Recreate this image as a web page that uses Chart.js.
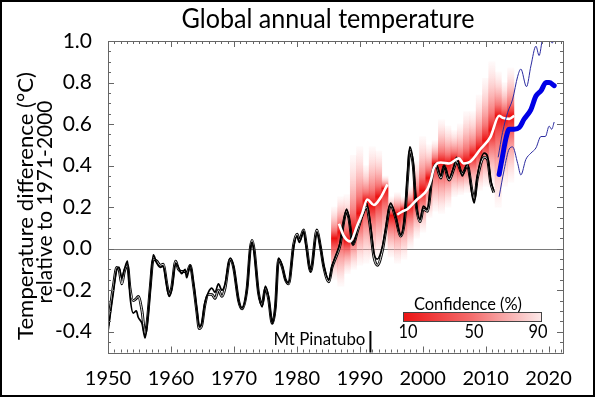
<!DOCTYPE html>
<html><head><meta charset="utf-8">
<script src="https://cdn.jsdelivr.net/npm/chart.js@4.4.0/dist/chart.umd.min.js"></script>
<style>html,body{margin:0;padding:0;background:#fff;}canvas{display:block;}</style>
</head><body>
<canvas id="c" width="595" height="397"></canvas>
<script>
// ---------- data ----------
const xTickValues = [1950, 1960, 1970, 1980, 1990, 2000, 2010, 2020];
const xTickLabels = ['1950', '1960', '1970', '1980', '1990', '2000', '2010', '2020'];
const yTickValues = [-0.4, -0.2, 0.0, 0.2, 0.4, 0.6, 0.8, 1.0];
const yTickLabels = ['-0.4', '-0.2', '0.0', '0.2', '0.4', '0.6', '0.8', '1.0'];

const obsYears = [1950.0,1950.3,1950.85,1951.4,1951.75,1952.2,1952.6,1953.1,1953.5,1954.0,1954.5,1954.8,1955.4,1955.9,1956.3,1956.7,1957.2,1957.75,1958.3,1958.8,1959.3,1959.7,1960.1,1960.75,1961.2,1961.7,1962.25,1962.5,1963.05,1963.6,1964.1,1964.5,1964.9,1965.4,1965.95,1966.5,1967.0,1967.55,1968.1,1968.6,1969.4,1969.95,1970.75,1971.3,1972.1,1972.6,1972.9,1973.25,1973.9,1974.5,1975.0,1975.5,1976.1,1976.6,1977.1,1977.7,1978.2,1978.7,1979.5,1980.05,1980.4,1981.1,1981.5,1982.2,1983.2,1983.75,1984.3,1985.1,1985.6,1986.1,1986.9,1987.4,1987.9,1988.25,1988.95,1989.6,1990.4,1991.1,1991.6,1992.25,1992.8,1993.6,1994.1,1994.9,1995.7,1996.5,1997.1,1997.65,1997.95,1998.5,1998.9,1999.6,2000.1,2000.75,2001.55,2002.1,2002.9,2003.4,2004.2,2005.0,2005.4,2006.3,2007.1,2007.9,2008.2,2008.7,2009.8,2010.3,2010.8,2011.3];
const obsA = [-0.40,-0.33,-0.21,-0.10,-0.09,-0.14,-0.10,-0.06,-0.23,-0.31,-0.30,-0.33,-0.36,-0.43,-0.34,-0.20,-0.03,-0.07,-0.09,-0.085,-0.17,-0.23,-0.20,-0.07,-0.09,-0.12,-0.10,-0.14,-0.08,-0.17,-0.29,-0.375,-0.36,-0.26,-0.21,-0.19,-0.21,-0.17,-0.20,-0.17,-0.045,-0.085,-0.25,-0.285,-0.19,-0.005,0.03,-0.02,-0.21,-0.28,-0.18,-0.23,-0.36,-0.28,-0.045,-0.085,-0.15,-0.165,0.01,0.06,0.03,0.085,0.01,-0.11,0.08,0.01,-0.085,-0.15,-0.085,-0.04,0.03,0.12,0.19,0.155,0.02,0.09,0.17,0.22,0.14,-0.02,-0.05,0.01,0.09,0.22,0.155,0.065,0.14,0.38,0.49,0.41,0.235,0.14,0.205,0.19,0.37,0.41,0.35,0.40,0.34,0.40,0.44,0.35,0.41,0.25,0.22,0.35,0.46,0.445,0.33,0.28];
const obsB = [-0.37,-0.30,-0.18,-0.09,-0.10,-0.17,-0.11,-0.08,-0.19,-0.25,-0.24,-0.23,-0.30,-0.41,-0.33,-0.19,-0.05,-0.06,-0.08,-0.075,-0.16,-0.22,-0.19,-0.06,-0.10,-0.11,-0.11,-0.12,-0.08,-0.18,-0.30,-0.385,-0.37,-0.27,-0.22,-0.22,-0.24,-0.20,-0.23,-0.19,-0.05,-0.09,-0.25,-0.29,-0.19,0.00,0.04,-0.01,-0.21,-0.27,-0.19,-0.24,-0.36,-0.28,-0.05,-0.09,-0.15,-0.17,0.02,0.07,0.04,0.09,0.02,-0.11,0.09,0.01,-0.09,-0.16,-0.09,-0.05,0.02,0.12,0.18,0.15,0.02,0.08,0.16,0.20,0.12,-0.04,-0.08,-0.01,0.08,0.21,0.15,0.06,0.13,0.36,0.47,0.40,0.23,0.13,0.19,0.18,0.36,0.40,0.34,0.40,0.33,0.39,0.42,0.36,0.40,0.27,0.24,0.34,0.44,0.43,0.32,0.27];

const hindYears = [1986.7,1987.5,1988.5,1989.6,1990.4,1991.2,1992.25,1993.3,1994.4,1995.2,1995.95,1996.8,1997.55,1999.1,2000.75,2001.3,2001.8,2002.9,2004.2,2005.75,2006.5,2007.6,2009.2,2010.8,2012.15,2012.7,2013.75,2014.55];
const hindMid = [0.12,0.06,0.035,0.11,0.17,0.237,0.21,0.245,0.31,null,0.164,0.18,0.19,0.237,0.285,0.33,0.39,0.415,0.41,0.435,0.41,0.42,0.48,0.54,0.64,0.63,0.625,0.64];

const confYears = [1986,1987,1988,1989,1990,1991,1992,1993,1994,1995,1996,1997,1998,1999,2000,2001,2002,2003,2004,2005,2006,2007,2008,2009,2010,2011,2012,2013,2014];
const confHi  = [0.20,0.25,0.26,0.45,0.49,0.40,0.49,0.47,0.35,0.25,0.27,0.25,0.30,0.42,0.54,0.50,0.52,0.62,0.59,0.57,0.60,0.66,0.66,0.74,0.82,0.90,0.85,0.80,0.87];
const confLo  = [-0.15,-0.18,-0.12,-0.10,-0.08,-0.07,-0.05,-0.04,0.00,-0.04,-0.07,-0.05,0.00,0.05,0.08,0.15,0.18,0.17,0.20,0.25,0.26,0.27,0.27,0.28,0.30,0.30,0.20,0.30,0.32];
const confMid = [0.05,0.08,0.04,0.08,0.17,0.23,0.21,0.25,0.29,0.16,0.17,0.19,0.21,0.24,0.28,0.34,0.41,0.415,0.41,0.43,0.41,0.42,0.45,0.48,0.52,0.57,0.64,0.63,0.64];

const fcYears = [2012.15,2012.7,2013.2,2013.75,2014.55,2015.35,2016.1,2017.2,2018.0,2018.8,2019.6,2020.1,2020.9];
const fcMid   = [0.357,0.446,0.527,0.575,0.575,0.583,0.623,0.67,0.735,0.76,0.80,0.80,0.785];
const fcUpYears = [2012.0,2012.7,2013.5,2014.3,2015.1,2015.6,2016.5,2017.2,2018.0,2018.5,2019.05,2019.6,2020.1,2020.6,2020.9];
const fcUpper   = [0.44,0.56,0.655,0.72,0.83,0.865,0.78,0.88,0.975,0.93,1.01,1.04,1.02,0.99,1.03];
const fcLoYears = [2012.15,2012.95,2013.75,2014.3,2015.1,2015.6,2016.4,2017.2,2018.0,2018.8,2019.5,2020.1,2020.5,2020.9];
const fcLower   = [0.25,0.38,0.48,0.49,0.41,0.355,0.43,0.46,0.485,0.54,0.54,0.59,0.575,0.61];

const pinatuboYear = 1991.7;
const legendTicks = ['10', '50', '90'];

// ---------- drawing ----------
const FONT = 'Lato, "Noto Sans", sans-serif';
const pts = (xs, ys) => xs.map((x, i) => ({ x: x, y: ys[i] }));

function confColor(c) {
  const chart = c.chart;
  if (!chart.chartArea || c.type !== 'data') return 'rgba(240,60,60,0.6)';
  const y = chart.scales.y;
  const i = c.dataIndex;
  const t = y.getPixelForValue(confHi[i]), b = y.getPixelForValue(confLo[i]), m = y.getPixelForValue(confMid[i]);
  let f = (m - t) / (b - t);
  f = Math.min(0.88, Math.max(0.12, f));
  const g = chart.ctx.createLinearGradient(0, t, 0, b);
  g.addColorStop(0, 'rgba(255,210,210,0.12)');
  g.addColorStop(f * 0.35, 'rgba(252,170,170,0.55)');
  g.addColorStop(f * 0.75, 'rgba(245,95,95,0.85)');
  g.addColorStop(f, 'rgba(236,16,16,1)');
  g.addColorStop(f + (1 - f) * 0.3, 'rgba(245,95,95,0.85)');
  g.addColorStop(f + (1 - f) * 0.7, 'rgba(252,170,170,0.55)');
  g.addColorStop(1, 'rgba(255,210,210,0.12)');
  return g;
}

function fitText(ctx, text, x, y, size, targetW, align) {
  ctx.font = size + 'px ' + FONT;
  const w = ctx.measureText(text).width;
  const s = targetW / w;
  ctx.save();
  ctx.translate(x, y);
  ctx.scale(s, 1);
  ctx.textAlign = align || 'center';
  ctx.textBaseline = 'alphabetic';
  ctx.fillText(text, 0, 0);
  ctx.restore();
}

const framePlugin = {
  id: 'frame',
  beforeDatasetsDraw(chart) {
    const ctx = chart.ctx, a = chart.chartArea, ys = chart.scales.y;
    const p = Math.round(ys.getPixelForValue(0)) + 0.5;
    ctx.save();
    ctx.strokeStyle = '#7a7a7a';
    ctx.lineWidth = 1.2;
    ctx.beginPath(); ctx.moveTo(a.left, p); ctx.lineTo(a.right, p); ctx.stroke();
    ctx.restore();
  },
  afterDraw(chart) {
    const ctx = chart.ctx, a = chart.chartArea, xs = chart.scales.x, ys = chart.scales.y;
    ctx.save();
    ctx.strokeStyle = '#666';
    ctx.lineWidth = 1;
    ctx.strokeRect(Math.round(a.left) + 0.5, Math.round(a.top) + 0.5, Math.round(a.right - a.left), Math.round(a.bottom - a.top));
    ctx.beginPath();
    for (let yr = 1950; yr <= 2022; yr++) {
      const px = Math.round(xs.getPixelForValue(yr)) + 0.5;
      const L = yr % 10 === 0 ? 6 : 3;
      ctx.moveTo(px, a.bottom); ctx.lineTo(px, a.bottom - L);
      ctx.moveTo(px, a.top); ctx.lineTo(px, a.top + L);
    }
    for (let k = -10; k <= 20; k++) {
      const py = Math.round(ys.getPixelForValue(k * 0.05)) + 0.5;
      const L = k % 4 === 0 ? 6 : 3;
      ctx.moveTo(a.left, py); ctx.lineTo(a.left + L, py);
      ctx.moveTo(a.right, py); ctx.lineTo(a.right - L, py);
    }
    ctx.stroke();

    ctx.fillStyle = '#000';
    fitText(ctx, 'Global annual temperature', 328, 28, 26, 293, 'center');
    ctx.save();
    ctx.translate(33, 206); ctx.rotate(-Math.PI / 2);
    fitText(ctx, 'Temperature difference (°C)', 0, 0, 22, 268, 'center');
    ctx.restore();
    ctx.save();
    ctx.translate(52, 202); ctx.rotate(-Math.PI / 2);
    fitText(ctx, 'relative to 1971-2000', 0, 0, 22, 203, 'center');
    ctx.restore();

    const px = xs.getPixelForValue(pinatuboYear);
    ctx.strokeStyle = '#000'; ctx.lineWidth = 2;
    ctx.beginPath(); ctx.moveTo(px, 331); ctx.lineTo(px, a.bottom); ctx.stroke();
    fitText(ctx, 'Mt Pinatubo', px - 5, 345, 17, 92, 'right');

    const bx = 403, by = 312, bw = 138, bh = 9;
    const g = ctx.createLinearGradient(bx, 0, bx + bw, 0);
    g.addColorStop(0, 'rgb(236,20,20)');
    g.addColorStop(0.5, 'rgb(244,110,110)');
    g.addColorStop(1, 'rgb(252,232,232)');
    ctx.fillStyle = g;
    ctx.fillRect(bx, by, bw, bh);
    ctx.strokeStyle = '#444'; ctx.lineWidth = 1;
    ctx.strokeRect(bx + 0.5, by + 0.5, bw, bh);
    ctx.fillStyle = '#000';
    fitText(ctx, 'Confidence (%)', 468, 310, 18, 108, 'center');
    const lx = [408, 474, 538];
    legendTicks.forEach((t, i) => fitText(ctx, t, lx[i], 338, 19, 19, 'center'));

    ctx.strokeStyle = '#000'; ctx.lineWidth = 2;
    ctx.strokeRect(1, 1, 593, 395);
    ctx.restore();
  }
};

const lineBase = { pointRadius: 0, fill: false, cubicInterpolationMode: 'monotone', spanGaps: false };

new Chart(document.getElementById('c'), {
  type: 'line',
  data: {
    datasets: [
      { type: 'bar', data: confYears.map((x, i) => ({ x: x, y: [confLo[i], confHi[i]] })),
        backgroundColor: confColor, borderWidth: 0, barPercentage: 1.0, categoryPercentage: 1.0, order: 10 },
      Object.assign({ data: pts(obsYears, obsB), borderColor: '#000', borderWidth: 2.8, order: 7 }, lineBase),
      Object.assign({ data: pts(obsYears, obsB), borderColor: '#fff', borderWidth: 0.9, order: 6 }, lineBase),
      Object.assign({ data: pts(obsYears, obsA), borderColor: '#000', borderWidth: 1.7, order: 5 }, lineBase),
      Object.assign({ data: pts(hindYears, hindMid), borderColor: '#fff', borderWidth: 2.6, order: 4 }, lineBase),
      Object.assign({ data: pts(fcUpYears, fcUpper), borderColor: '#2b2ba0', borderWidth: 1, order: 3 }, lineBase),
      Object.assign({ data: pts(fcLoYears, fcLower), borderColor: '#2b2ba0', borderWidth: 1, order: 2 }, lineBase),
      Object.assign({ data: pts(fcYears, fcMid), borderColor: '#0000e6', borderWidth: 5, borderCapStyle: 'round', order: 1 }, lineBase)
    ]
  },
  options: {
    responsive: false,
    animation: false,
    devicePixelRatio: 1,
    layout: { padding: { top: 41, right: 32, left: 0, bottom: 0 } },
    plugins: { legend: { display: false }, tooltip: { enabled: false }, title: { display: false } },
    scales: {
      x: {
        type: 'linear', min: 1950, max: 2022.3, offset: false,
        grid: { display: false }, border: { display: false },
        afterBuildTicks: s => { s.ticks = xTickValues.map(v => ({ value: v })); },
        afterFit: s => { s.height = 44.5; },
        ticks: { callback: (v, i) => xTickLabels[i], font: { family: FONT, size: 20 }, color: '#000', padding: 6, maxRotation: 0, autoSkip: false }
      },
      y: {
        type: 'linear', min: -0.5, max: 1.0,
        grid: { display: false }, border: { display: false },
        afterBuildTicks: s => { s.ticks = yTickValues.map(v => ({ value: v })); },
        afterFit: s => { s.width = 108; },
        ticks: { callback: (v, i) => yTickLabels[i], font: { family: FONT, size: 21 }, color: '#000', padding: 8, autoSkip: false }
      }
    }
  },
  plugins: [framePlugin]
});
</script>
</body></html>
